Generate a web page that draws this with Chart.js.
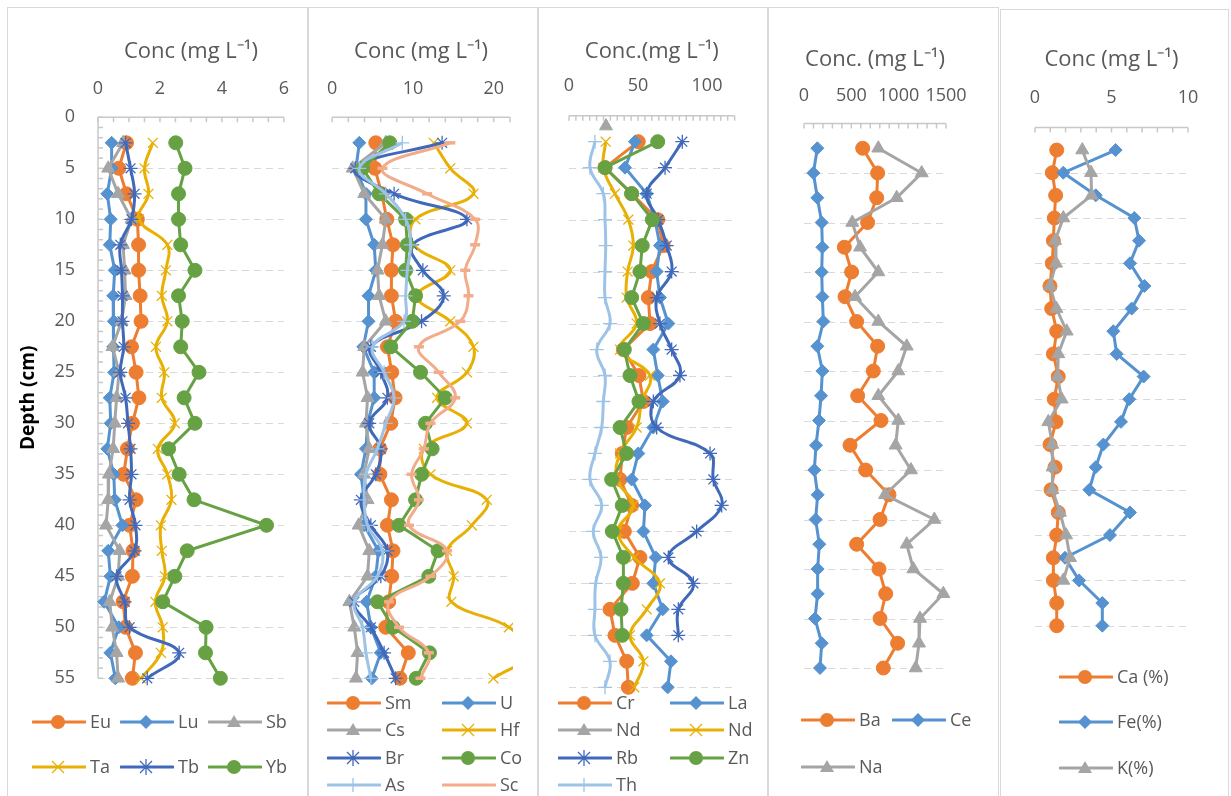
<!DOCTYPE html>
<html>
<head>
<meta charset="utf-8">
<script src="https://cdn.jsdelivr.net/npm/chart.js@4.4.0/dist/chart.umd.min.js"></script>
<style>
  body { margin: 0; background: #fff; width: 1231px; height: 796px; overflow: hidden; position: relative; font-family: 'Open Sans', sans-serif; }
  .panel { position: absolute; box-sizing: border-box; border: 1px solid #d9d9d9; height: 810px; }
  .panel canvas { position: absolute; left: 0; top: 0; }
  .leg { position: absolute; height: 22px; line-height: 22px; font-size: 18px; color: #595959; white-space: nowrap; }
  .leg svg { position: absolute; left: 0; top: 0; }
  .leg span { position: absolute; left: 58px; top: -1px; }
</style>
</head>
<body>
<script>
// depth of each sample (cm)
const depths = [2.5, 5, 7.5, 10, 12.5, 15, 17.5, 20, 22.5, 25, 27.5, 30, 32.5, 35, 37.5, 40, 42.5, 45, 47.5, 50, 52.5, 55];
const depthTicks = [0, 5, 10, 15, 20, 25, 30, 35, 40, 45, 50, 55];

// panel 1 (mg/L)
const p1Ticks = [0, 2, 4, 6];
const eu = [0.92, 0.67, 0.92, 1.27, 1.31, 1.31, 1.36, 1.39, 1.08, 1.23, 1.32, 1.11, 0.95, 0.83, 1.23, 1.02, 1.13, 1.11, 0.81, 0.89, 1.21, 1.11];
const lu = [0.44, 0.44, 0.30, 0.41, 0.38, 0.54, 0.49, 0.51, 0.49, 0.52, 0.38, 0.41, 0.30, 0.51, 0.54, 0.79, 0.33, 0.40, 0.20, 0.67, 0.40, 0.56];
const sb = [0.81, 0.33, 0.65, 1.08, 0.81, 0.86, 0.89, 0.76, 0.47, 0.68, 0.60, 0.54, 0.49, 0.35, 0.33, 0.26, 0.70, 0.65, 0.38, 0.46, 0.60, 0.65];
const ta = [1.77, 1.50, 1.63, 1.32, 2.24, 2.19, 2.06, 2.24, 1.87, 2.14, 2.06, 2.48, 1.93, 2.24, 2.37, 2.03, 2.06, 2.16, 1.85, 2.09, 2.03, 1.39];
const tb = [0.89, 1.05, 1.18, 1.08, 0.72, 0.76, 0.79, 0.79, 0.83, 0.72, 0.89, 0.97, 1.05, 1.08, 1.02, 1.21, 1.18, 0.60, 0.86, 1.02, 2.62, 1.59];
const yb = [2.51, 2.81, 2.60, 2.60, 2.67, 3.13, 2.60, 2.72, 2.67, 3.26, 2.78, 3.13, 2.28, 2.62, 3.10, 5.44, 2.88, 2.48, 2.09, 3.49, 3.47, 3.95];

// panel 2
const p2Ticks = [0, 10, 20];
const sm = [5.40, 5.28, 6.14, 6.76, 7.53, 7.33, 7.33, 7.86, 6.84, 7.37, 7.78, 7.25, 5.90, 5.90, 7.33, 6.84, 7.53, 7.37, 7.00, 6.63, 9.42, 8.39];
const u = [3.36, 2.95, 4.18, 4.18, 5.20, 5.40, 4.50, 4.50, 3.85, 5.20, 5.20, 4.38, 4.18, 3.56, 3.97, 3.97, 5.73, 5.40, 4.26, 4.79, 6.02, 4.91];
const cs = [6.63, 2.54, 3.97, 6.63, 6.22, 5.61, 5.81, 6.63, 3.97, 3.77, 4.38, 4.18, 4.59, 3.93, 4.38, 3.28, 4.59, 4.38, 2.13, 2.74, 3.15, 2.95];
const hf = [12.57, 14.62, 17.48, 10.3, 10.1, 14.62, 10.5, 14.62, 17.48, 16.67, 12.98, 16.67, 11.34, 12.16, 19.13, 17.28, 14.21, 15.03, 14.74, 21.87, 24.5, 19.94];
const br = [13.6, 2.87, 7.66, 16.67, 9.91, 11.22, 13.8, 11.06, 4.79, 6.02, 6.84, 4.59, 6.02, 5.40, 3.56, 4.79, 6.84, 6.02, 2.74, 4.79, 6.43, 7.86];
const co = [7.13, 3.77, 5.81, 9.09, 9.30, 9.09, 10.32, 9.91, 7.25, 10.93, 14.0, 11.55, 12.37, 11.06, 10.32, 8.27, 13.1, 11.96, 5.61, 7.53, 12.04, 10.4];
const as = [8.68, 3.36, 6.63, 9.09, 9.70, 9.30, 9.09, 8.89, 5.00, 6.43, 7.66, 6.63, 5.61, 4.18, 3.97, 4.38, 6.22, 5.61, 2.74, 3.77, 4.18, 4.79];
const sc = [14.62, 6.22, 11.75, 17.69, 17.69, 16.46, 16.87, 15.85, 10.73, 13.18, 15.23, 12.16, 11.34, 9.83, 10.73, 9.50, 14.21, 12.16, 7.04, 8.27, 11.96, 10.93];

// panel 3
const p3Ticks = [0, 50, 100];
const cr = [50.2, 26.1, 45.4, 64.3, 68.3, 59.9, 57.5, 58.7, 39.4, 50.7, 53.9, 41.8, 38.6, 37.0, 45.4, 40.1, 51.4, 45.9, 29.7, 33.3, 41.8, 43.0];
const la = [47.8, 40.6, 56.3, 62.3, 65.9, 63.5, 65.9, 72.0, 61.1, 64.3, 67.9, 61.1, 50.2, 45.4, 55.1, 53.9, 62.8, 61.1, 67.9, 56.3, 73.9, 71.5];
const ndGrayDepth = [1];
const ndGray = [26.8];
const nd = [26.6, 24.9, 33.3, 43.0, 46.6, 42.5, 41.8, 49.0, 37.0, 58.7, 52.7, 49.0, 37.0, 34.6, 46.6, 35.4, 47.3, 65.9, 56.3, 44.2, 53.9, 47.3];
const rb = [82.1, 69.6, 56.3, 64.7, 70.8, 74.4, 63.5, 65.9, 74.4, 80.4, 61.1, 63.5, 102.2, 104.6, 110.6, 92.5, 72.0, 90.1, 79.2, 79.2];
const zn = [64.3, 26.1, 45.4, 60.4, 53.1, 51.4, 45.4, 53.9, 40.1, 44.2, 50.7, 37.0, 41.8, 30.9, 38.6, 31.4, 39.4, 39.4, 37.7, 38.6];
const th = [18.8, 15.2, 24.9, 26.1, 26.6, 26.1, 26.1, 29.7, 20.1, 26.1, 24.9, 23.7, 18.8, 15.2, 23.7, 17.6, 23.2, 19.3, 18.8, 18.8, 29.7, 26.1];

// panel 4
const p4Ticks = [0, 500, 1000, 1500];
const ba = [620, 778, 768, 672, 426, 503, 433, 556, 778, 732, 567, 813, 486, 651, 898, 803, 556, 792, 863, 803, 989, 838];
const ce = [141, 99, 141, 187, 194, 187, 194, 204, 141, 194, 180, 158, 127, 109, 144, 123, 162, 144, 144, 116, 187, 169];
const na = [785, 1243, 979, 510, 592, 785, 539, 785, 1085, 996, 785, 996, 968, 1130, 856, 1377, 1085, 1155, 1472, 1225, 1215, 1180];

// panel 5 (%)
const p5Ticks = [0, 5, 10];
const ca = [1.42, 1.13, 1.35, 1.26, 1.20, 1.13, 0.98, 1.09, 1.42, 1.20, 1.52, 1.26, 1.37, 0.98, 1.31, 1.05, 1.52, 1.42, 1.20, 1.20, 1.42, 1.42];
const fe = [5.27, 1.85, 3.97, 6.49, 6.80, 6.21, 7.15, 6.32, 5.12, 5.34, 7.10, 6.16, 5.62, 4.47, 3.97, 3.55, 6.21, 4.90, 1.96, 2.88, 4.40, 4.40];
const k = [3.09, 3.66, 3.70, 1.85, 1.31, 1.37, 0.98, 1.40, 2.07, 1.52, 1.48, 1.74, 0.87, 1.13, 1.15, 1.13, 1.63, 2.03, 2.29, 1.85];

const ORANGE = '#ED7D31', BLUE = '#5592CF', GRAY = '#A5A5A5', GOLD = '#E8AF05',
      DKBLUE = '#4169BA', GREEN = '#66A244', LTBLUE = '#9DC3E6', SALMON = '#F2AC8A';
const TXT = '#595959';

function s(label, values, color, marker, smooth, depth) {
  return { label, values, color, marker, smooth, depth: depth || depths };
}

const panels = [
  { box: [7, 7, 301], area: [90, 278, 109.3, 670.3], padTop: 27, tickPad: 18, title: 'Conc (mg L⁻¹)',
    xTicks: p1Ticks, xMax: 6, minor: 0.5, yAxis: true, clipRight: false,
    legCols: [32, 120, 208], legRows: [722, 767],
    series: [s('Eu', eu, ORANGE, 'circle'), s('Lu', lu, BLUE, 'rectRot'), s('Sb', sb, GRAY, 'triangle'),
             s('Ta', ta, GOLD, 'crossRot', true), s('Tb', tb, DKBLUE, 'star', true), s('Yb', yb, GREEN, 'circle')] },
  { box: [308, 7, 230], area: [22, 201, 109.3, 670.3], padTop: 27, tickPad: 18, title: 'Conc (mg L⁻¹)',
    xTicks: p2Ticks, xMax: 22, minor: 2, clipRight: 3,
    legCols: [327, 442], legRows: [703, 730, 758, 785],
    series: [s('Sm', sm, ORANGE, 'circle'), s('U', u, BLUE, 'rectRot'), s('Cs', cs, GRAY, 'triangle'),
             s('Hf', hf, GOLD, 'crossRot', true), s('Br', br, DKBLUE, 'star', true), s('Co', co, GREEN, 'circle'),
             s('As', as, LTBLUE, 'cross', true), s('Sc', sc, SALMON, 'line', true)] },
  { box: [538, 7, 230], area: [30, 195.6, 107.7, 679.3], padTop: 27, tickPad: 19.5, title: 'Conc.(mg L⁻¹)',
    xTicks: p3Ticks, xMax: 120, minor: 5, clipRight: false,
    legCols: [558, 670], legRows: [703, 730, 758, 785],
    series: [s('Cr', cr, ORANGE, 'circle'), s('La', la, BLUE, 'rectRot'), s('Nd', ndGray, GRAY, 'triangle', false, ndGrayDepth),
             s('Nd', nd, GOLD, 'crossRot', true), s('Rb', rb, DKBLUE, 'star', true), s('Zn', zn, GREEN, 'circle'),
             s('Th', th, LTBLUE, 'cross', true)] },
  { box: [768, 7, 231], area: [35, 177, 115.5, 660], padTop: 35, tickPad: 17.3, title: 'Conc. (mg L⁻¹)',
    xTicks: p4Ticks, xMax: 1500, minor: 100, clipRight: false,
    legCols: [801, 892], legRows: [720, 767],
    series: [s('Ba', ba, ORANGE, 'circle'), s('Ce', ce, BLUE, 'rectRot'), s('Na', na, GRAY, 'triangle')] },
  { box: [1000, 9, 229], area: [34, 187, 117.4, 615.7], padTop: 33, tickPad: 19.2, title: 'Conc (mg L⁻¹)',
    xTicks: p5Ticks, xMax: 10, minor: 1, clipRight: false,
    legCols: [1059], legRows: [677, 722, 768],
    series: [s('Ca (%)', ca, ORANGE, 'circle'), s('Fe(%)', fe, BLUE, 'rectRot'), s('K(%)', k, GRAY, 'triangle')] }
];

const markerSize = { circle: 7, rectRot: 6.5, triangle: 7.5, crossRot: 7, star: 7, cross: 7, line: 5 };

// dashed depth grid, axis lines and small tick marks
const decor = {
  id: 'decor',
  beforeDatasetsDraw(chart, args, opts) {
    const { ctx, chartArea: a, scales: { x, y } } = chart;
    ctx.save();
    ctx.lineWidth = 1;
    ctx.strokeStyle = '#d9d9d9';
    ctx.setLineDash([7, 5]);
    depthTicks.forEach(d => {
      if (d === 0) return;
      const py = Math.round(y.getPixelForValue(d)) + 0.5;
      ctx.beginPath(); ctx.moveTo(a.left, py); ctx.lineTo(a.right, py); ctx.stroke();
    });
    ctx.setLineDash([]);
    ctx.strokeStyle = '#c8c8c8';
    ctx.lineWidth = 1.5;
    const top = a.top;
    ctx.beginPath(); ctx.moveTo(a.left, top); ctx.lineTo(a.right, top); ctx.stroke();
    const n = Math.round(opts.xMax / opts.minor);
    for (let i = 0; i <= n; i++) {
      const px = x.getPixelForValue(i * opts.minor);
      ctx.beginPath(); ctx.moveTo(px, top); ctx.lineTo(px, top + 5); ctx.stroke();
    }
    if (opts.yAxis) {
      ctx.beginPath(); ctx.moveTo(a.left, a.top); ctx.lineTo(a.left, a.bottom); ctx.stroke();
      for (let d = 0; d <= 55; d++) {
        const py = y.getPixelForValue(d);
        ctx.beginPath(); ctx.moveTo(a.left, py); ctx.lineTo(a.left + 5, py); ctx.stroke();
      }
    }
    ctx.restore();
  }
};

function iconSvg(marker, color) {
  let m = '';
  const c = 26, cy = 11;
  if (marker === 'circle') m = `<circle cx="${c}" cy="${cy}" r="7" fill="${color}"/>`;
  else if (marker === 'rectRot') m = `<polygon points="${c},${cy - 7} ${c + 7},${cy} ${c},${cy + 7} ${c - 7},${cy}" fill="${color}"/>`;
  else if (marker === 'triangle') m = `<polygon points="${c},${cy - 7} ${c + 7},${cy + 5} ${c - 7},${cy + 5}" fill="${color}"/>`;
  else if (marker === 'crossRot') m = `<path d="M${c - 6} ${cy - 6}L${c + 6} ${cy + 6}M${c + 6} ${cy - 6}L${c - 6} ${cy + 6}" stroke="${color}" stroke-width="1.3"/>`;
  else if (marker === 'star') m = `<path d="M${c - 6} ${cy - 6}L${c + 6} ${cy + 6}M${c + 6} ${cy - 6}L${c - 6} ${cy + 6}M${c} ${cy - 8}V${cy + 8}" stroke="${color}" stroke-width="1.3"/>`;
  else if (marker === 'cross') m = `<path d="M${c} ${cy - 7}V${cy + 7}" stroke="${color}" stroke-width="1.3"/>`;
  return `<svg width="54" height="22"><line x1="1" y1="${cy}" x2="53" y2="${cy}" stroke="${color}" stroke-width="3" stroke-linecap="round"/>${m}</svg>`;
}

panels.forEach(p => {
  const [left, topPos, width] = p.box;
  const div = document.createElement('div');
  div.className = 'panel';
  div.style.left = left + 'px';
  div.style.top = topPos + 'px';
  div.style.width = width + 'px';
  document.body.appendChild(div);

  const cw = width - 2, ch = 796 - topPos - 1;
  const canvas = document.createElement('canvas');
  canvas.width = cw; canvas.height = ch;
  canvas.style.width = cw + 'px'; canvas.style.height = ch + 'px';
  div.appendChild(canvas);

  const [aL, aR, aT, aB] = p.area;
  const padLeft = p.yAxis ? 5 : aL;

  const datasets = p.series.map((sr, i) => {
    const filled = ['circle', 'rectRot', 'triangle'].includes(sr.marker);
    const r = markerSize[sr.marker];
    return {
      label: sr.label,
      data: sr.values.map((v, j) => ({ x: v, y: sr.depth[j] })),
      showLine: true,
      clip: { left: false, top: false, bottom: false, right: p.clipRight },
      borderColor: sr.color,
      backgroundColor: sr.color,
      borderWidth: 3,
      tension: sr.smooth ? 0.4 : 0,
      pointStyle: sr.marker,
      pointRadius: r,
      pointHoverRadius: r,
      pointBackgroundColor: sr.color,
      pointBorderColor: sr.color,
      pointBorderWidth: filled ? 1 : (sr.marker === 'line' ? 3.5 : 1.3),
      order: -i
    };
  });

  new Chart(canvas, {
    type: 'scatter',
    data: { datasets },
    plugins: [decor],
    options: {
      responsive: false,
      animation: false,
      devicePixelRatio: 1,
      layout: { padding: { left: padLeft, right: cw - aR, top: p.padTop, bottom: ch - aB } },
      plugins: {
        legend: { display: false },
        tooltip: { enabled: false },
        decor: { xMax: p.xMax, minor: p.minor, yAxis: !!p.yAxis }
      },
      scales: {
        x: {
          type: 'linear', position: 'top', min: 0, max: p.xMax,
          grid: { display: false, drawTicks: false },
          border: { display: false },
          ticks: { autoSkip: false, maxRotation: 0, padding: p.tickPad, color: TXT,
                   font: { family: 'Open Sans', size: 18 }, callback: v => String(v) },
          title: { display: true, text: p.title, color: TXT, padding: { top: 4, bottom: 4 },
                   font: { family: 'Open Sans', size: 22 } },
          afterBuildTicks: sc => { sc.ticks = p.xTicks.map(v => ({ value: v })); },
          afterFit: sc => { sc.height = aT - p.padTop; }
        },
        y: {
          type: 'linear', reverse: true, min: 0, max: 55,
          display: !!p.yAxis,
          grid: { display: false, drawTicks: false },
          border: { display: false },
          ticks: { autoSkip: false, padding: 23, color: TXT, font: { family: 'Open Sans', size: 18 },
                   callback: v => String(v) },
          title: { display: true, text: 'Depth (cm)', color: '#000', padding: { top: 4, bottom: 4 },
                   font: { family: 'Open Sans', size: 19, weight: 'bold' } },
          afterBuildTicks: sc => { sc.ticks = depthTicks.map(v => ({ value: v })); },
          afterFit: sc => { sc.width = aL - padLeft; }
        }
      }
    }
  });

  // legend, row by row
  p.series.forEach((sr, i) => {
    const col = i % p.legCols.length, row = Math.floor(i / p.legCols.length);
    const item = document.createElement('div');
    item.className = 'leg';
    item.style.left = p.legCols[col] + 'px';
    item.style.top = (p.legRows[row] - 11) + 'px';
    item.innerHTML = iconSvg(sr.marker, sr.color) + '<span>' + sr.label + '</span>';
    document.body.appendChild(item);
  });
});
</script>
</body>
</html>
